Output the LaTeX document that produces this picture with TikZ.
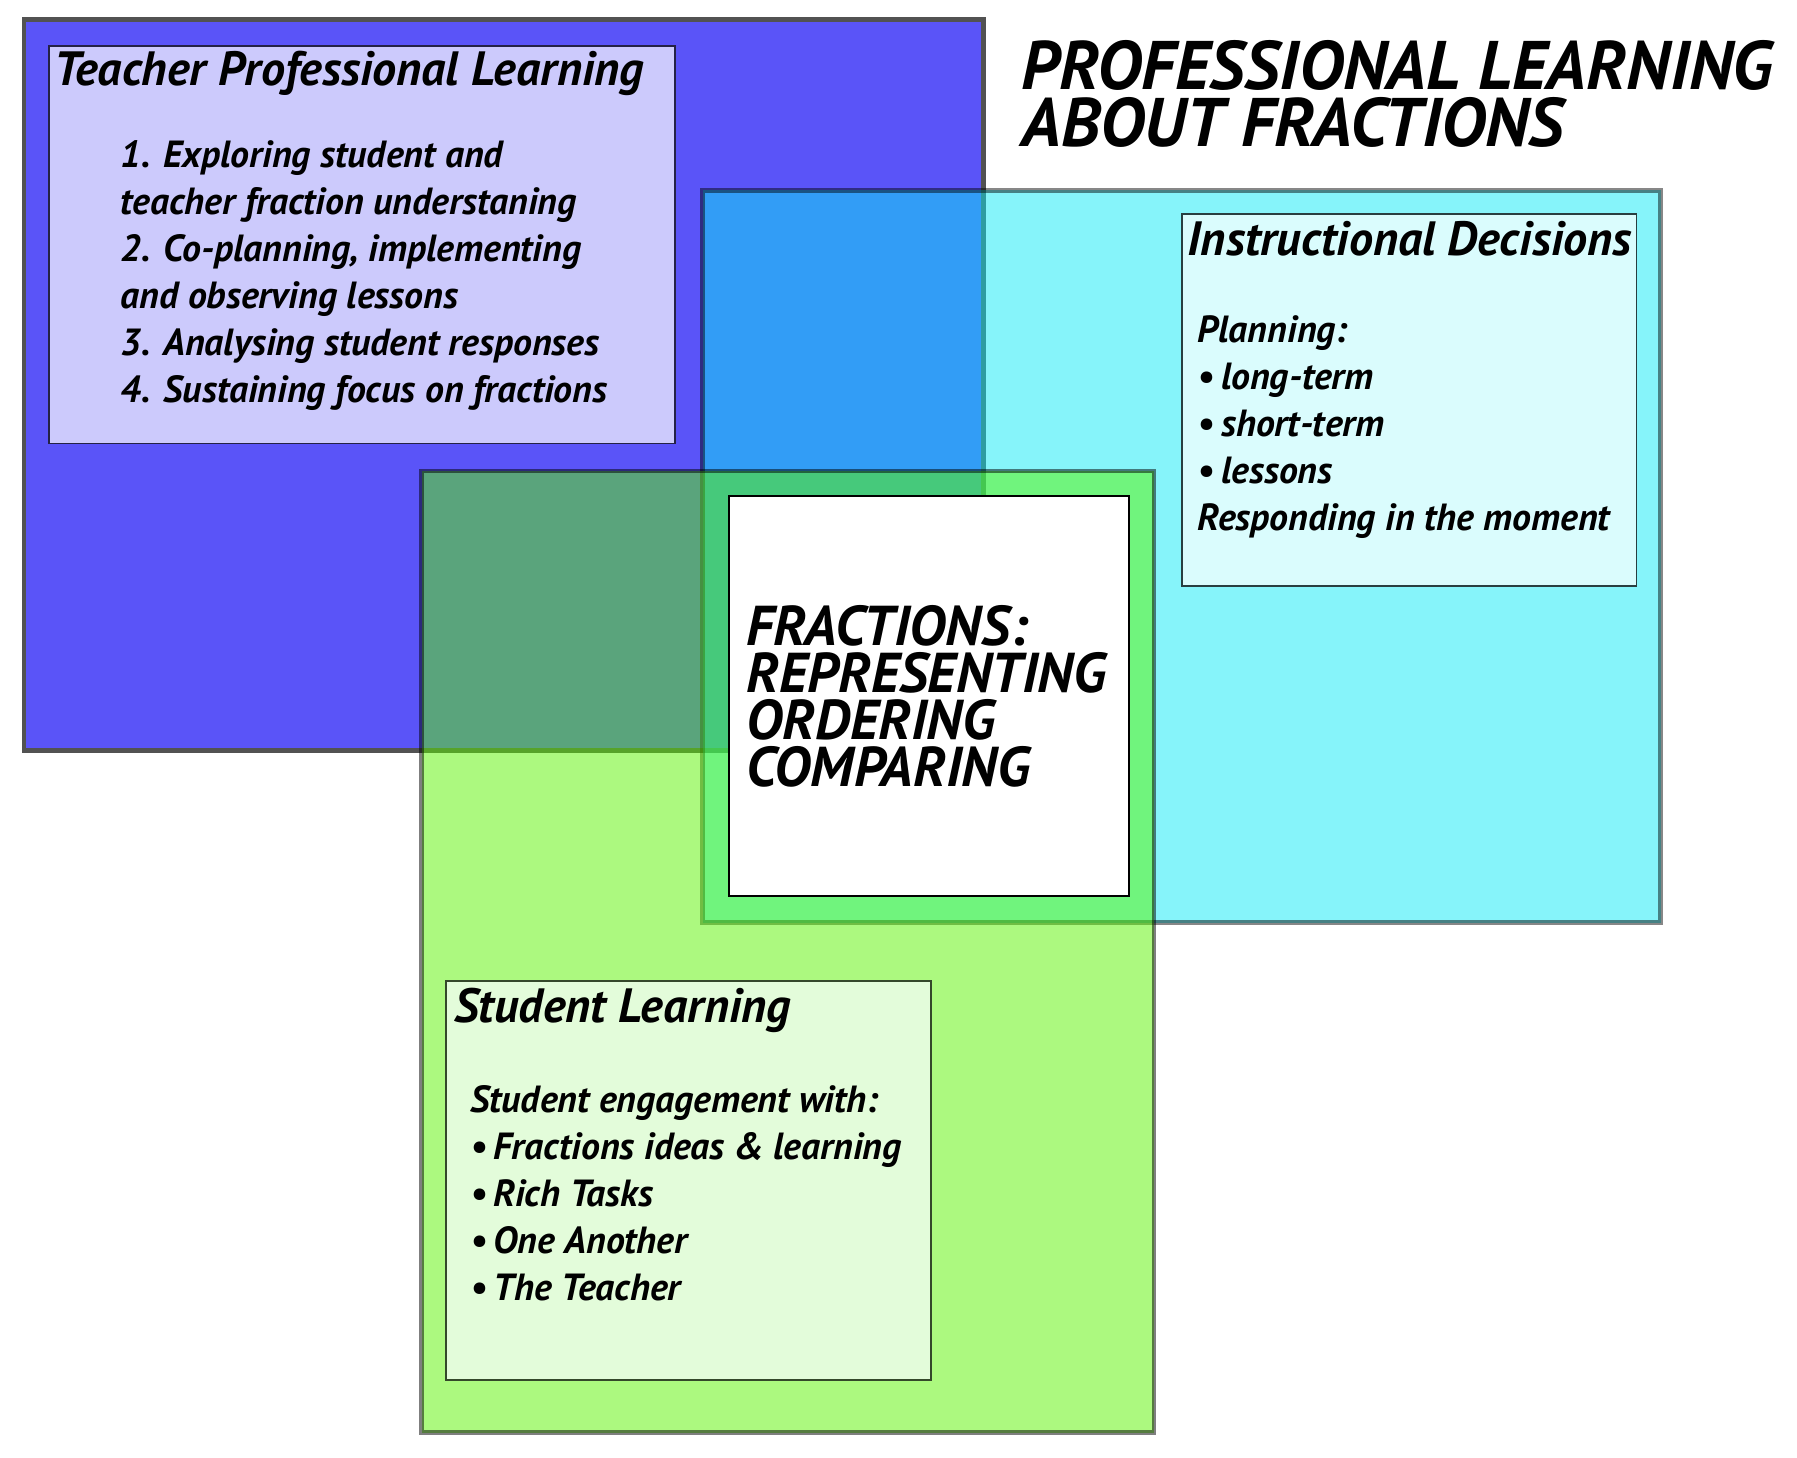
\documentclass[tikz,border=0pt]{standalone}
\usepackage{fontspec}
\setmainfont{PT Sans}
\definecolor{bluefill}{RGB}{90,84,248}
\definecolor{panelgray}{RGB}{82,82,82}
\definecolor{cyanfill}{RGB}{10,234,245}
\definecolor{greenfill}{RGB}{91,245,1}
\definecolor{lavender}{RGB}{204,202,252}
\definecolor{palecyan}{RGB}{218,252,253}
\definecolor{palegreen}{RGB}{227,252,218}
\definecolor{navyedge}{RGB}{36,34,70}
\definecolor{tealedge}{RGB}{40,62,64}
\definecolor{greenedge}{RGB}{52,72,42}
\tikzset{
  panel/.style={line width=4pt, line join=miter},
  infobox/.style={line width=1.6pt},
  % multi-line texts are placed by the baseline of their last line
  txt/.style={font=\bfseries\itshape, text=black, inner sep=0pt, anchor=base west},
  heading/.style={txt, font=\fontsize{42}{48}\selectfont\bfseries\itshape},
  body/.style={txt, align=left, font=\fontsize{33}{41}\selectfont\bfseries\itshape},
  bigcaps/.style={txt, align=left, font=\fontsize{49}{41}\selectfont\bfseries\itshape},
  titlecaps/.style={txt, align=left, font=\fontsize{60}{50}\selectfont\bfseries\itshape},
}
\begin{document}
\begin{tikzpicture}[x=1pt,y=-1pt]
\useasboundingbox[fill=white] (0,0) rectangle (1568,1272);

% three overlapping areas
\draw[panel, fill=bluefill, draw=panelgray] (21,17) rectangle (858,655);
\draw[panel, fill=cyanfill, fill opacity=0.49, draw=black, draw opacity=0.47] (613,166) rectangle (1449,805);
\draw[panel, fill=greenfill, fill opacity=0.5, draw=black, draw opacity=0.5] (368,411) rectangle (1007,1250);

% centre focus
\draw[line width=2pt, fill=white, draw=black] (636,433) rectangle (985,782);
\node[bigcaps] (focus) at (651,686) {FRACTIONS:\\REPRESENTING\\ORDERING\\COMPARING};

% title
\node[titlecaps] (title) at (891,128) {PROFESSIONAL LEARNING\\ABOUT FRACTIONS};

% teacher professional learning
\draw[infobox, fill=lavender, draw=navyedge] (43,40) rectangle (589,387);
\node[heading] (tplhead) at (47,75) {Teacher Professional Learning};
\node[body] (tpllist) at (105,351) {1. Exploring student and\\teacher fraction understaning\\2. Co-planning, implementing\\and observing lessons\\3. Analysing student responses\\4. Sustaining focus on fractions};

% instructional decisions
\draw[infobox, fill=palecyan, draw=tealedge] (1031,187) rectangle (1428,511);
\node[heading] (idhead) at (1036,223) {Instructional Decisions};
\node[body] (idlist) at (1045,463) {Planning:\\•\,long-term\\•\,short-term\\•\,lessons\\Responding in the moment};

% student learning
\draw[infobox, fill=palegreen, draw=greenedge] (389,856) rectangle (812,1204);
\node[heading] (slhead) at (396,892) {Student Learning};
\node[body] (sllist) at (410,1135) {Student engagement with:\\•\,Fractions ideas \& learning\\•\,Rich Tasks\\•\,One Another\\•\,The Teacher};
\end{tikzpicture}
\end{document}
